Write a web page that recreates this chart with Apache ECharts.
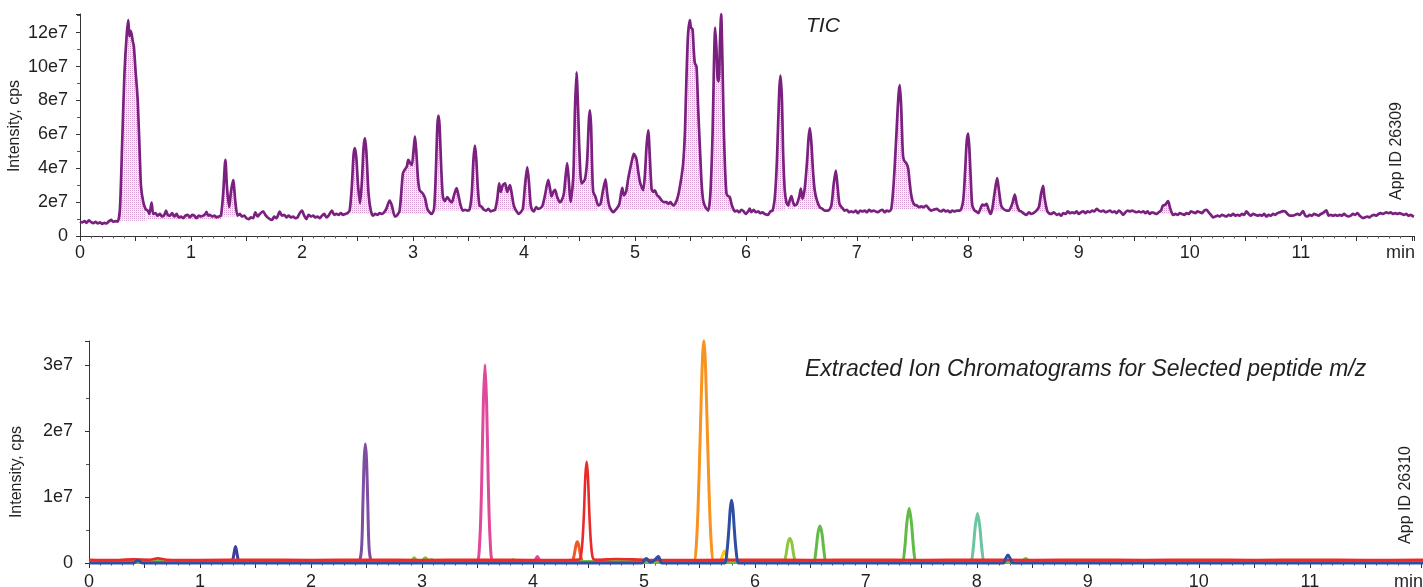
<!DOCTYPE html>
<html>
<head>
<meta charset="utf-8">
<script src="https://cdn.jsdelivr.net/npm/echarts/dist/echarts.min.js"></script>
<style>
html,body{margin:0;padding:0;background:#fff;overflow:hidden;}
#chart{width:1423px;height:587px;}
</style>
</head>
<body>
<div id="chart"></div>
<script>
// ---------- DATA (time in min, intensity in units of 1e7 cps) ----------
const xTickLabels = ['0','1','2','3','4','5','6','7','8','9','10','11'];
const topYTickLabels = ['0','2e7','4e7','6e7','8e7','10e7','12e7'];
const bottomYTickLabels = ['0','1e7','2e7','3e7'];

const ticTrace = [
[0,0.85],[0.02,0.80],[0.04,0.88],[0.06,0.78],[0.08,0.92],[0.10,0.82],[0.12,0.76],[0.14,0.84],[0.16,0.74],[0.18,0.80],
[0.20,0.72],[0.22,0.78],[0.24,0.74],[0.26,0.86],[0.28,0.95],[0.30,0.84],[0.32,0.88],[0.34,0.85],[0.36,1.6],[0.38,5.5],
[0.40,9.5],[0.42,11.8],[0.435,12.74],[0.445,11.8],[0.455,12.1],[0.465,11.9],[0.475,11.5],[0.485,11.2],[0.50,9.8],[0.52,8.0],
[0.54,4.5],[0.55,2.9],[0.57,2.0],[0.59,1.6],[0.61,1.5],[0.625,1.3],[0.645,1.97],[0.66,1.3],[0.68,1.35],[0.70,1.2],
[0.72,1.3],[0.74,1.15],[0.76,1.25],[0.775,1.5],[0.79,1.25],[0.81,1.2],[0.83,1.35],[0.85,1.15],[0.87,1.3],[0.89,1.1],
[0.91,1.15],[0.93,1.05],[0.95,1.2],[0.97,1.25],[0.99,1.1],[1.01,1.25],[1.03,1.2],[1.05,1.05],[1.07,1.2],[1.09,1.15],
[1.11,1.2],[1.13,1.3],[1.14,1.43],[1.155,1.2],[1.17,1.25],[1.19,1.15],[1.21,1.2],[1.23,1.1],[1.25,1.15],[1.27,1.2],
[1.29,2.5],[1.31,4.5],[1.325,2.8],[1.345,1.7],[1.36,2.6],[1.38,3.3],[1.40,2.0],[1.42,1.2],[1.44,1.3],[1.46,1.15],
[1.48,1.2],[1.50,1.05],[1.52,1.0],[1.54,1.1],[1.56,1.05],[1.58,1.4],[1.60,1.15],[1.62,1.3],[1.65,1.45],[1.67,1.25],
[1.69,1.1],[1.71,1.0],[1.73,0.95],[1.75,1.15],[1.77,1.05],[1.80,1.44],[1.82,1.2],[1.84,1.25],[1.86,1.1],[1.88,1.2],
[1.90,1.1],[1.92,1.15],[1.94,1.05],[1.96,1.1],[1.98,1.35],[2.00,1.5],[2.02,1.2],[2.04,1.0],[2.06,1.25],[2.08,1.15],
[2.10,1.2],[2.12,1.1],[2.14,1.15],[2.16,1.05],[2.18,1.2],[2.20,1.3],[2.22,1.1],[2.24,1.2],[2.27,1.5],[2.29,1.25],
[2.31,1.3],[2.33,1.25],[2.35,1.35],[2.37,1.25],[2.39,1.3],[2.41,1.35],[2.43,1.5],[2.45,3.0],[2.465,4.8],[2.477,5.19],
[2.49,4.6],[2.505,3.0],[2.523,1.93],[2.54,3.2],[2.555,5.2],[2.568,5.78],[2.58,5.0],[2.60,2.5],[2.62,1.5],[2.64,1.2],
[2.66,1.3],[2.68,1.25],[2.70,1.35],[2.72,1.3],[2.74,1.4],[2.76,1.6],[2.79,2.09],[2.81,1.8],[2.838,1.15],[2.86,1.25],
[2.88,1.5],[2.90,3.0],[2.91,3.71],[2.925,3.9],[2.945,4.1],[2.958,4.5],[2.975,4.3],[2.99,4.2],[3.005,5.0],[3.018,5.88],
[3.03,5.0],[3.045,3.4],[3.06,2.7],[3.075,2.6],[3.09,2.5],[3.11,2.2],[3.13,1.6],[3.15,1.4],[3.168,1.3],[3.19,1.6],
[3.205,3.5],[3.22,6.5],[3.23,7.1],[3.24,6.5],[3.255,4.0],[3.27,2.3],[3.288,2.06],[3.31,2.3],[3.33,2.1],[3.35,1.98],
[3.37,2.4],[3.393,2.82],[3.41,2.4],[3.43,1.8],[3.45,1.5],[3.47,1.55],[3.49,1.5],[3.51,1.55],[3.53,2.5],[3.545,4.5],
[3.558,5.33],[3.57,4.6],[3.585,2.8],[3.60,1.8],[3.618,1.73],[3.64,1.55],[3.66,1.5],[3.68,1.6],[3.70,1.45],[3.72,1.5],
[3.74,1.55],[3.76,2.2],[3.777,3.1],[3.79,2.6],[3.81,3.0],[3.83,3.1],[3.85,2.6],[3.874,3.0],[3.89,2.5],[3.905,1.9],
[3.92,1.6],[3.935,1.45],[3.95,1.3],[3.97,1.4],[3.99,1.6],[4.01,3.0],[4.03,4.06],[4.045,3.2],[4.06,1.9],[4.07,1.6],
[4.09,1.45],[4.11,1.7],[4.13,1.6],[4.15,1.65],[4.168,1.8],[4.19,2.4],[4.219,3.31],[4.235,2.8],[4.249,2.33],[4.265,2.6],
[4.28,2.72],[4.30,2.3],[4.324,1.99],[4.34,2.1],[4.36,2.5],[4.375,3.5],[4.39,4.3],[4.405,3.2],[4.42,2.0],[4.445,3.5],
[4.46,7.5],[4.474,9.66],[4.488,7.5],[4.50,5.0],[4.52,3.1],[4.55,3.35],[4.57,4.5],[4.585,6.8],[4.594,7.42],[4.605,6.5],
[4.615,4.0],[4.624,2.62],[4.645,2.3],[4.67,1.8],[4.69,1.9],[4.71,2.6],[4.735,3.35],[4.75,2.5],[4.768,1.8],[4.785,1.55],
[4.804,1.4],[4.82,1.5],[4.84,1.65],[4.86,1.9],[4.886,2.84],[4.90,2.4],[4.92,2.6],[4.94,3.4],[4.955,3.9],[4.975,4.5],
[4.99,4.85],[5.005,4.7],[5.015,4.5],[5.03,3.8],[5.045,3.2],[5.06,2.9],[5.075,2.7],[5.09,3.6],[5.105,5.3],[5.12,6.23],
[5.135,4.6],[5.15,2.8],[5.165,2.6],[5.18,2.7],[5.20,2.4],[5.22,2.3],[5.24,2.1],[5.26,2.0],[5.285,2.0],[5.30,1.9],
[5.32,2.0],[5.345,1.8],[5.37,2.0],[5.39,2.4],[5.405,2.9],[5.42,3.5],[5.435,4.3],[5.45,6.0],[5.459,8.05],[5.47,10.5],
[5.48,12.0],[5.495,12.74],[5.505,12.3],[5.519,12.2],[5.53,11.0],[5.54,10.2],[5.555,10.0],[5.57,7.5],[5.585,5.3],[5.60,3.2],
[5.615,2.1],[5.635,1.7],[5.66,1.5],[5.68,2.5],[5.70,6.06],[5.712,10.0],[5.723,12.3],[5.735,11.0],[5.745,9.3],[5.755,9.13],
[5.767,11.5],[5.777,13.1],[5.788,10.5],[5.80,6.5],[5.812,4.0],[5.825,2.5],[5.84,2.35],[5.855,2.3],[5.87,1.9],[5.886,1.6],
[5.90,1.45],[5.92,1.5],[5.94,1.4],[5.96,1.55],[5.98,1.45],[6.00,1.3],[6.02,1.45],[6.035,1.62],[6.05,1.4],[6.07,1.55],
[6.09,1.4],[6.11,1.45],[6.13,1.35],[6.15,1.4],[6.17,1.3],[6.20,1.25],[6.22,1.45],[6.24,1.5],[6.261,2.3],[6.28,4.5],
[6.30,8.5],[6.312,9.47],[6.325,8.0],[6.335,5.0],[6.35,2.7],[6.365,2.0],[6.38,1.8],[6.395,2.1],[6.41,2.35],[6.425,2.0],
[6.44,1.8],[6.46,1.9],[6.48,2.3],[6.495,2.8],[6.51,2.2],[6.53,2.8],[6.55,4.3],[6.565,5.8],[6.576,6.37],[6.59,5.5],
[6.605,3.8],[6.62,2.7],[6.64,2.1],[6.666,1.7],[6.69,1.6],[6.71,1.5],[6.742,1.5],[6.77,1.8],[6.79,3.0],[6.81,3.86],
[6.825,3.0],[6.84,2.0],[6.85,1.8],[6.87,1.65],[6.89,1.5],[6.91,1.55],[6.93,1.4],[6.95,1.45],[6.97,1.4],[6.99,1.5],
[7.01,1.35],[7.03,1.5],[7.05,1.45],[7.07,1.5],[7.09,1.4],[7.11,1.55],[7.13,1.45],[7.15,1.5],[7.17,1.45],[7.19,1.4],
[7.21,1.5],[7.23,1.55],[7.25,1.4],[7.27,1.5],[7.29,1.45],[7.31,1.6],[7.327,2.7],[7.34,4.0],[7.357,6.1],[7.375,8.3],
[7.387,8.9],[7.40,7.5],[7.41,5.5],[7.417,4.67],[7.43,4.4],[7.445,4.3],[7.462,4.0],[7.475,3.2],[7.49,2.4],[7.505,2.0],
[7.52,1.85],[7.54,1.8],[7.56,1.7],[7.58,1.75],[7.60,1.7],[7.625,1.8],[7.65,1.6],[7.67,1.5],[7.69,1.55],[7.72,1.6],
[7.74,1.5],[7.76,1.45],[7.78,1.55],[7.80,1.45],[7.82,1.5],[7.84,1.4],[7.86,1.5],[7.88,1.45],[7.90,1.5],[7.93,1.5],
[7.958,2.1],[7.975,3.8],[7.99,5.6],[8.003,6.04],[8.015,5.0],[8.03,2.8],[8.04,1.8],[8.06,1.5],[8.075,1.45],[8.093,1.35],
[8.11,1.55],[8.132,1.85],[8.15,1.8],[8.168,1.9],[8.185,1.6],[8.204,1.3],[8.22,1.6],[8.24,2.5],[8.264,3.41],[8.28,2.7],
[8.30,1.8],[8.32,1.6],[8.349,1.5],[8.37,1.5],[8.40,1.9],[8.423,2.45],[8.44,1.9],[8.462,1.5],[8.48,1.45],[8.50,1.35],
[8.528,1.24],[8.55,1.4],[8.57,1.3],[8.59,1.35],[8.618,1.5],[8.64,1.7],[8.66,2.5],[8.678,2.96],[8.69,2.3],[8.714,1.5],
[8.73,1.35],[8.75,1.3],[8.775,1.4],[8.80,1.25],[8.82,1.3],[8.84,1.2],[8.86,1.35],[8.88,1.3],[8.90,1.45],[8.92,1.35],
[8.94,1.4],[8.96,1.35],[8.98,1.45],[9.00,1.3],[9.02,1.4],[9.04,1.45],[9.06,1.35],[9.08,1.45],[9.10,1.4],[9.12,1.5],
[9.14,1.45],[9.16,1.6],[9.18,1.5],[9.20,1.45],[9.22,1.5],[9.24,1.4],[9.26,1.45],[9.28,1.5],[9.30,1.4],[9.32,1.45],
[9.34,1.35],[9.36,1.5],[9.38,1.4],[9.398,1.25],[9.42,1.4],[9.44,1.5],[9.46,1.45],[9.48,1.5],[9.50,1.45],[9.52,1.4],
[9.54,1.45],[9.56,1.4],[9.58,1.45],[9.60,1.35],[9.62,1.45],[9.64,1.3],[9.66,1.4],[9.68,1.35],[9.70,1.3],[9.72,1.4],
[9.74,1.5],[9.758,1.8],[9.78,1.85],[9.804,2.06],[9.82,1.7],[9.835,1.4],[9.85,1.24],[9.87,1.3],[9.89,1.25],[9.91,1.35],
[9.93,1.3],[9.95,1.25],[9.97,1.35],[9.99,1.3],[10.01,1.45],[10.03,1.4],[10.05,1.35],[10.07,1.45],[10.09,1.4],[10.11,1.35],
[10.13,1.5],[10.15,1.55],[10.17,1.4],[10.19,1.25],[10.21,1.1],[10.23,1.15],[10.25,1.2],[10.27,1.15],[10.29,1.25],[10.31,1.2],
[10.33,1.15],[10.35,1.25],[10.37,1.2],[10.39,1.3],[10.41,1.2],[10.43,1.25],[10.45,1.2],[10.47,1.3],[10.49,1.25],[10.51,1.45],
[10.53,1.3],[10.55,1.2],[10.57,1.3],[10.59,1.25],[10.61,1.2],[10.63,1.25],[10.65,1.2],[10.67,1.3],[10.69,1.15],[10.71,1.25],
[10.73,1.2],[10.75,1.3],[10.77,1.25],[10.79,1.35],[10.81,1.4],[10.84,1.47],[10.86,1.45],[10.88,1.3],[10.90,1.2],[10.93,1.2],
[10.95,1.25],[10.97,1.3],[10.99,1.25],[11.02,1.47],[11.04,1.2],[11.06,1.15],[11.08,1.25],[11.10,1.2],[11.12,1.3],[11.14,1.25],
[11.16,1.2],[11.18,1.3],[11.20,1.35],[11.23,1.52],[11.25,1.2],[11.27,1.25],[11.29,1.2],[11.31,1.25],[11.33,1.2],[11.35,1.25],
[11.37,1.2],[11.39,1.3],[11.41,1.2],[11.43,1.15],[11.45,1.2],[11.47,1.3],[11.49,1.25],[11.51,1.35],[11.53,1.2],[11.56,1.06],
[11.58,1.1],[11.60,1.15],[11.62,1.1],[11.64,1.2],[11.66,1.25],[11.68,1.2],[11.70,1.3],[11.72,1.35],[11.74,1.3],[11.77,1.39],
[11.79,1.35],[11.81,1.4],[11.83,1.3],[11.85,1.35],[11.87,1.3],[11.89,1.35],[11.91,1.3],[11.93,1.25],[11.95,1.3],[11.97,1.2],
[11.99,1.25],[12.01,1.17],[12.02,1.15]
];

// integrated peak regions of the TIC: [start, end, baseline]
const ticPeakRegions = [
[0.35,0.60,0.9],[0.60,1.28,1.0],[1.28,1.42,1.15],[2.44,2.63,1.3],[2.75,2.84,1.3],[2.88,3.17,1.3],
[3.18,3.29,1.5],[3.29,3.45,1.5],[3.52,3.61,1.55],[3.75,3.92,1.5],[3.99,4.07,1.5],[4.17,4.33,1.5],
[4.34,4.42,1.5],[4.42,4.52,1.5],[4.52,4.67,1.5],[4.69,4.79,1.5],[4.86,5.075,1.55],[5.075,5.34,1.55],
[5.34,5.63,1.5],[5.66,5.89,1.5],[6.25,6.36,1.5],[6.38,6.44,1.6],[6.47,6.67,1.6],[6.76,6.86,1.55],
[7.31,7.52,1.6],[7.52,7.62,1.6],[7.94,8.05,1.5],[8.09,8.2,1.4],[8.22,8.31,1.5],[8.39,8.46,1.4],
[8.63,8.71,1.4],[9.74,9.84,1.3],[10.79,10.89,1.3]
];

// Extracted ion chromatograms
const xicIndigo = [[0,0.02],[1.24,0.02],[1.275,0.02],[1.295,0.05],[1.307,0.15],[1.32,0.25],[1.333,0.15],[1.345,0.05],[1.365,0.02],[1.40,0.02],[12.02,0.02]];
const xicPurple = [[0,0.02],[2.40,0.02],[2.43,0.02],[2.455,0.2],[2.468,0.9],[2.479,1.55],[2.49,1.8],[2.501,1.55],[2.512,0.9],[2.525,0.2],[2.55,0.02],[2.58,0.02],[12.02,0.02]];
const xicLime = [[0,0.02],[0.37,0.02],[0.40,0.02],[0.43,0.04],[0.46,0.02],[0.49,0.02],[2.87,0.02],[2.90,0.02],[2.93,0.08],[2.96,0.02],[3.0,0.03],[3.03,0.08],[3.06,0.04],[3.09,0.05],[3.12,0.02],[3.15,0.02],
  [3.76,0.02],[3.79,0.02],[3.82,0.05],[3.85,0.02],[3.88,0.02],[8.37,0.02],[8.40,0.02],[8.44,0.07],[8.48,0.02],[8.51,0.02],[12.02,0.02]];
const xicMagenta = [[0,0.02],[3.47,0.02],[3.50,0.02],[3.523,0.4],[3.538,1.2],[3.553,2.4],[3.568,3.0],[3.583,2.4],[3.598,1.2],[3.613,0.4],[3.636,0.02],[3.67,0.02],
  [3.98,0.02],[4.01,0.02],[4.04,0.1],[4.07,0.02],[4.10,0.02],[12.02,0.02]];
const xicOrangeRed = [[0,0.02],[4.32,0.02],[4.355,0.03],[4.375,0.15],[4.388,0.27],[4.40,0.32],[4.412,0.27],[4.425,0.15],[4.445,0.03],[4.48,0.02],[12.02,0.02]];
const xicRed = [[0,0.05],[0.2,0.045],[0.4,0.055],[0.55,0.05],[0.62,0.07],[0.7,0.05],[1.0,0.045],[1.5,0.05],[2.0,0.045],[2.5,0.05],[3.0,0.045],[3.5,0.05],
  [4.0,0.045],[4.39,0.05],[4.424,0.06],[4.444,0.28],[4.459,0.72],[4.472,1.3],[4.484,1.53],[4.496,1.3],[4.509,0.72],[4.524,0.28],[4.544,0.06],[4.58,0.05],
  [4.75,0.06],[5.0,0.05],[5.5,0.045],[6.0,0.05],[6.5,0.045],[7.0,0.05],[7.5,0.045],[8.0,0.05],[8.5,0.045],[9.0,0.05],[9.5,0.045],[10.0,0.05],[10.5,0.045],[11.0,0.05],[11.5,0.045],[12.02,0.05]];
const xicOrange = [[0,0.02],[5.42,0.02],[5.45,0.02],[5.475,0.35],[5.495,1.2],[5.515,2.4],[5.528,3.1],[5.54,3.37],[5.552,3.1],[5.565,2.4],[5.585,1.2],[5.605,0.35],[5.63,0.02],[5.66,0.02],[12.02,0.02]];
const xicYellow = [[0,0.02],[5.655,0.02],[5.685,0.02],[5.705,0.1],[5.725,0.18],[5.745,0.1],[5.765,0.02],[5.795,0.02],[12.02,0.02]];
const xicBlue = [[0,0],[0.37,0],[0.40,0],[0.44,0.04],[0.48,0],[0.51,0],[4.95,0],[4.98,0],[5.02,0.07],[5.06,0.01],[5.1,0.05],[5.13,0.1],[5.16,0],[5.19,0],
  [5.70,0],[5.73,0],[5.75,0.2],[5.765,0.5],[5.778,0.82],[5.79,0.95],[5.802,0.82],[5.815,0.5],[5.83,0.2],[5.85,0],[5.88,0],
  [8.21,0],[8.24,0],[8.26,0.07],[8.28,0.12],[8.30,0.07],[8.32,0],[8.35,0],[12.02,0]];
const xicYellowGreen = [[0,0.02],[6.23,0.02],[6.26,0.02],[6.28,0.12],[6.297,0.3],[6.315,0.37],[6.333,0.3],[6.35,0.12],[6.37,0.02],[6.40,0.02],[12.02,0.02]];
const xicGreen = [[0,0.02],[6.50,0.02],[6.531,0.02],[6.551,0.2],[6.568,0.45],[6.586,0.56],[6.604,0.45],[6.621,0.2],[6.641,0.02],[6.67,0.02],
  [7.30,0.02],[7.33,0.02],[7.35,0.22],[7.37,0.62],[7.39,0.83],[7.41,0.62],[7.43,0.22],[7.45,0.02],[7.48,0.02],[12.02,0.02]];
const xicTeal = [[0,0.02],[5.73,0.02],[5.76,0.02],[5.80,0.04],[5.84,0.02],[5.87,0.02],[7.916,0.02],[7.946,0.02],[7.966,0.2],[7.986,0.56],[8.006,0.75],[8.026,0.56],[8.046,0.2],[8.066,0.02],[8.096,0.02],[12.02,0.02]];

// ---------- CHART ----------
const FONT = '"Liberation Sans", Arial, Helvetica, sans-serif';
const TEXT = '#231f20';
const chart = echarts.init(document.getElementById('chart'), null, {renderer: 'canvas'});

const pat = document.createElement('canvas');
pat.width = 2; pat.height = 2;
const pctx = pat.getContext('2d');
pctx.fillStyle = 'rgba(180,60,170,0.55)'; pctx.fillRect(0,0,1,1);
pctx.fillStyle = 'rgba(220,150,215,0.3)'; pctx.fillRect(1,1,1,1);
const fillPattern = {image: pat, repeat: 'repeat'};

function xLabel(v){
  const r = Math.round(v);
  if (Math.abs(v - r) > 1e-6) return '';
  return xTickLabels[r] !== undefined ? xTickLabels[r] : '';
}
function xAxisCfg(gridIndex, nameGap){
  return {
    type:'value', gridIndex, min:0, max:12.02, interval:0.5,
    name:'min', nameLocation:'end', nameGap:nameGap,
    nameTextStyle:{fontFamily:FONT, fontSize:18, color:TEXT, align:'right', verticalAlign:'top', padding:[gridIndex===0?8:10,0,0,0]},
    axisLine:{show:true, onZero:false, lineStyle:{color:'#333', width:1}},
    axisTick:{show:true, length:5, lineStyle:{color:'#333'}},
    minorTick:{show:true, splitNumber:5, length:2.5, lineStyle:{color:'#555'}},
    splitLine:{show:false},
    axisLabel:{formatter:xLabel, fontFamily:FONT, fontSize:18, color:TEXT, margin: gridIndex===0?8:10, showMaxLabel:false}
  };
}
function yAxisCfg(gridIndex, max, labels, margin){
  const step = gridIndex===0 ? 2 : 1;
  return {
    type:'value', gridIndex, min:0, max:max, interval:step,
    axisLine:{show:true, lineStyle:{color:'#333', width:1}},
    axisTick:{show:true, length:4, lineStyle:{color:'#333'}},
    minorTick:{show:true, splitNumber:2, length:3, lineStyle:{color:'#555'}},
    splitLine:{show:false},
    axisLabel:{
      formatter:function(v){ const i = Math.round(v/step); return labels[i] !== undefined && Math.abs(v/step-i)<1e-6 ? labels[i] : ''; },
      fontFamily:FONT, fontSize:18, color:TEXT, margin:margin, showMaxLabel:false
    }
  };
}

function xicSeries(data, color, z, width, clip){
  return {type:'line', xAxisIndex:1, yAxisIndex:1, data:data, showSymbol:false, smooth:0.3,
    lineStyle:{color:color, width:width || 3}, itemStyle:{color:color}, z:z, animation:false, silent:true,
    clip: clip === undefined ? true : clip};
}

const option = {
  animation:false,
  grid:[
    {left:80, top:14, width:1334, height:222, outerBoundsMode:'none', containLabel:false},
    {left:89, top:341, width:1334, height:222, outerBoundsMode:'none', containLabel:false}
  ],
  xAxis:[xAxisCfg(0, 1), xAxisCfg(1, 0)],
  yAxis:[yAxisCfg(0, 13.1, topYTickLabels, 12), yAxisCfg(1, 3.36, bottomYTickLabels, 16)],
  graphic:[
    {type:'text', x:806, y:26, style:{text:'TIC', fontFamily:FONT, fontSize:21, fontStyle:'italic', fill:TEXT, align:'left', verticalAlign:'middle'}},
    {type:'text', x:805, y:370, style:{text:'Extracted Ion Chromatograms for Selected peptide m/z', fontFamily:FONT, fontSize:23, fontStyle:'italic', fill:TEXT, align:'left', verticalAlign:'middle'}},
    {type:'text', x:1397, y:151, rotation:Math.PI/2, style:{text:'App ID 26309', fontFamily:FONT, fontSize:16, fill:TEXT, align:'center', verticalAlign:'middle'}},
    {type:'text', x:1406, y:495, rotation:Math.PI/2, style:{text:'App ID 26310', fontFamily:FONT, fontSize:16, fill:TEXT, align:'center', verticalAlign:'middle'}},
    {type:'text', x:15, y:126, rotation:Math.PI/2, style:{text:'Intensity, cps', fontFamily:FONT, fontSize:16, fill:TEXT, align:'center', verticalAlign:'middle'}},
    {type:'text', x:17, y:472, rotation:Math.PI/2, style:{text:'Intensity, cps', fontFamily:FONT, fontSize:16, fill:TEXT, align:'center', verticalAlign:'middle'}}
  ],
  series:[
    {
      type:'custom', xAxisIndex:0, yAxisIndex:0, data:ticPeakRegions, z:1, silent:true,
      encode:{x:[0,1], y:2},
      renderItem:function(params, api){
        const r = ticPeakRegions[params.dataIndex];
        const pts = [];
        for (const p of ticTrace){ if (p[0] >= r[0] && p[0] <= r[1]) pts.push(api.coord([p[0], p[1]])); }
        pts.push(api.coord([r[1], r[2]]));
        pts.push(api.coord([r[0], r[2]]));
        return {type:'polygon', shape:{points:pts}, style:{fill:fillPattern, stroke:null}};
      }
    },
    {type:'line', xAxisIndex:0, yAxisIndex:0, data:ticTrace, showSymbol:false, smooth:0.25,
      lineStyle:{color:'#7a2180', width:2.7}, itemStyle:{color:'#7a2180'}, z:3, silent:true},
    xicSeries(xicLime, '#7cc242', 2),
    xicSeries(xicTeal, '#6cc5a0', 2),
    xicSeries(xicIndigo, '#3b3f9b', 2),
    xicSeries(xicPurple, '#7f4ea3', 2),
    xicSeries(xicMagenta, '#e0489c', 2),
    xicSeries(xicOrangeRed, '#f15a24', 2),
    xicSeries(xicOrange, '#f7931e', 2),
    xicSeries(xicYellow, '#f9cc16', 2),
    xicSeries(xicYellowGreen, '#8dc63f', 2),
    xicSeries(xicGreen, '#62bb46', 2),
    xicSeries(xicRed, '#ea2a28', 3, 2.6),
    xicSeries(xicBlue, '#2e4ea2', 4, 3, false)
  ]
};
chart.setOption(option);
</script>
</body>
</html>
